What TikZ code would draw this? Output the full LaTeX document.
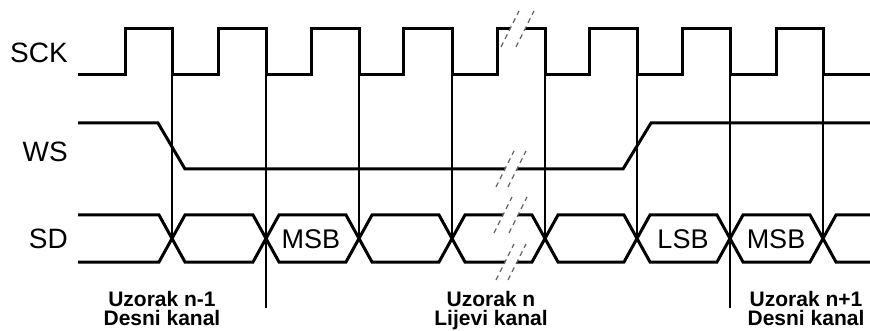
\documentclass[tikz,border=0pt]{standalone}
\usepackage{fontspec}
\setmainfont{Liberation Sans}
\usepackage{tikz}

\begin{document}
\begin{tikzpicture}[x=1pt,y=-1pt,
    signal/.style={line width=3pt},
    marker/.style={line width=1.2pt},
    breakmark/.style={line width=1.3pt,black!60,dash pattern=on 5pt off 4pt},
    signame/.style={anchor=east,inner sep=0pt,font=\fontsize{28}{30}\selectfont},
    bitname/.style={inner sep=0pt,font=\fontsize{27}{29}\selectfont},
    sample/.style={anchor=north,inner sep=0pt,align=center,font=\fontsize{21}{19.5}\selectfont\bfseries}]
          \useasboundingbox (0,0) rectangle (870,331);
          % signal names
          \node[signame] (SCK) at (68,53) {SCK};
          \node[signame] (WS) at (68,152) {WS};
          \node[signame] (SD) at (68,239) {SD};
          % clock markers
          \draw[marker] (172,75) -- (172,239);
          \draw[marker] (266,75) -- (266,308);
          \draw[marker] (359,75) -- (359,239);
          \draw[marker] (452,75) -- (452,239);
          \draw[marker] (545,75) -- (545,239);
          \draw[marker] (637,75) -- (637,239);
          \draw[marker] (730,75) -- (730,308);
          \draw[marker] (823,75) -- (823,239);
          % SCK
          \draw[signal] (78,75) -- (125,75) -- (125,29) -- (172,29) -- (172,75)
            -- (218,75) -- (218,29) -- (266,29) -- (266,75) -- (311,75) -- (311,29)
            -- (359,29) -- (359,75) -- (403,75) -- (403,29) -- (452,29) -- (452,75)
            -- (497,75) -- (497,29) -- (510,29);
          \draw[signal] (525,29) -- (545,29) -- (545,75) -- (589,75) -- (589,29)
            -- (637,29) -- (637,75) -- (682,75) -- (682,29) -- (730,29) -- (730,75)
            -- (776,75) -- (776,29) -- (823,29) -- (823,75) -- (870,75);
          % WS
          \draw[signal] (78,123) -- (158,123) -- (185,169) -- (505,169);
          \draw[signal] (517,169) -- (623,169) -- (651,123) -- (870,123);
          % SD
          \draw[signal] (78,215) -- (159,215) -- (185,262) -- (253,262) -- (279,215)
            -- (346,215) -- (372,262) -- (439,262) -- (465,215) -- (503,215);
          \draw[signal] (518,215) -- (532,215) -- (558,262) -- (624,262) -- (650,215)
            -- (717,215) -- (743,262) -- (810,262) -- (836,215) -- (870,215);
          \draw[signal] (78,262) -- (159,262) -- (185,215) -- (253,215) -- (279,262)
            -- (346,262) -- (372,215) -- (439,215) -- (465,262) -- (505,262);
          \draw[signal] (517,262) -- (532,262) -- (558,215) -- (624,215) -- (650,262)
            -- (717,262) -- (743,215) -- (810,215) -- (836,262) -- (870,262);
          \node[bitname] (MSB1) at (311,239) {MSB};
          \node[bitname] (LSB) at (683,239) {LSB};
          \node[bitname] (MSB2) at (776,239) {MSB};
          % breaks
          \draw[breakmark] (501,47) -- (519,11);
          \draw[breakmark] (516,47) -- (534,11);
          \draw[breakmark] (496,187) -- (514,151);
          \draw[breakmark] (508,187) -- (526,151);
          \draw[breakmark] (494,233) -- (512,197);
          \draw[breakmark] (509,233) -- (527,197);
          \draw[breakmark] (496,280) -- (514,244);
          \draw[breakmark] (508,280) -- (526,244);
          % samples
          \node[sample] (Sprev) at (162,291) {Uzorak n-1\\Desni kanal};
          \node[sample] (Scur) at (491,291) {Uzorak n\\Lijevi kanal};
          \node[sample] (Snext) at (806,291) {Uzorak n+1\\Desni kanal};
        \end{tikzpicture}
\end{document}
